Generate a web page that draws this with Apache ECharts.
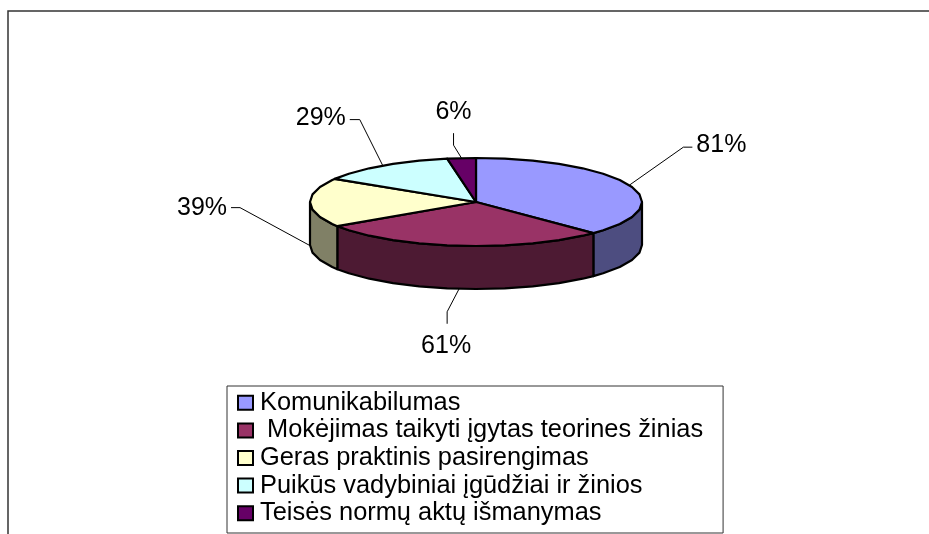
<!DOCTYPE html>
<html>
<head>
<meta charset="utf-8">
<style>html,body{margin:0;padding:0;background:#fff}#c{width:929px;height:534px}</style>
<script src="https://cdn.jsdelivr.net/npm/echarts@6/dist/echarts.min.js"></script>
</head>
<body>
<div id="c"></div>
<script>
var categories = ['Komunikabilumas', ' Mokėjimas taikyti įgytas teorines žinias', 'Geras praktinis pasirengimas', 'Puikūs vadybiniai įgūdžiai ir žinios', 'Teisės normų aktų išmanymas'];
var percents = [81, 61, 39, 29, 6];
var topColors = ['#9999FF', '#993366', '#FFFFCC', '#CCFFFF', '#660066'];
var sideColors = ['#4D4D80', '#4D1A33', '#808066', '#666680', '#330033'];

// leader-line elbows and label placement, relative to each slice's mid-angle rim point
var leaderOffsets = [
  [[54, -38], [63, -38]],
  [[-12, 23], [-12, 35]],
  [[-70, -38], [-79, -38]],
  [[-23, -46], [-33, -46]],
  [[-8, -13], [-8, -25]]
];
var labelOffsets = [[67, -40], [-13, 57], [-83, -38], [-37, -47], [-8, -46]];
var labelAligns = ['left', 'center', 'right', 'right', 'center'];

var CX = 476, CY = 202, RX = 166, RY = 44, DEPTH = 43, STEP = 10;
var total = percents.reduce(function (a, b) { return a + b; }, 0);

function pt(deg, dy) {
  var r = deg * Math.PI / 180;
  return [CX + RX * Math.sin(r), CY - RY * Math.cos(r) + (dy || 0)];
}
function arc(a, b, dy) {
  var out = [pt(a, dy)];
  var d = Math.floor(a / STEP) * STEP + STEP;
  for (; d < b; d += STEP) out.push(pt(d, dy));
  out.push(pt(b, dy));
  return out;
}
function makeRender(i) {
  return function () {
    var before = percents.slice(0, i).reduce(function (a, b) { return a + b; }, 0);
    var a = before / total * 360;
    var b = (before + percents[i]) / total * 360;
    var mid = (a + b) / 2;
    var children = [];
    var sa = Math.max(a, 90), sb = Math.min(b, 270);
    if (sa < sb) {
      children.push({
        type: 'polygon', z2: 1,
        shape: { points: arc(sa, sb, 0).concat(arc(sa, sb, DEPTH).reverse()) },
        style: { fill: sideColors[i], stroke: '#000', lineWidth: 2.2, lineJoin: 'round' }
      });
    }
    children.push({
      type: 'polygon', z2: 2,
      shape: { points: [[CX, CY]].concat(arc(a, b, 0)) },
      style: { fill: topColors[i], stroke: '#000', lineWidth: 2.2, lineJoin: 'round' }
    });
    var anchor = pt(mid, Math.cos(mid * Math.PI / 180) < 0 ? DEPTH : 0);
    var line = [anchor].concat(leaderOffsets[i].map(function (o) { return [anchor[0] + o[0], anchor[1] + o[1]]; }));
    children.push({
      type: 'polyline', z2: 3,
      shape: { points: line },
      style: { fill: null, stroke: '#000', lineWidth: 1 }
    });
    children.push({
      type: 'text', z2: 4,
      x: anchor[0] + labelOffsets[i][0],
      y: anchor[1] + labelOffsets[i][1],
      style: {
        text: percents[i] + '%', fill: '#000',
        font: '25px "Liberation Sans", Arial, sans-serif',
        align: labelAligns[i], verticalAlign: 'middle'
      }
    });
    return { type: 'group', children: children };
  };
}

var chart = echarts.init(document.getElementById('c'), null, { renderer: 'canvas' });
chart.setOption({
  animation: false,
  backgroundColor: '#fff',
  tooltip: { show: false },
  legend: {
    orient: 'vertical',
    left: 227, top: 386,
    padding: [3, 20, 6, 10],
    itemGap: 0,
    itemWidth: 15, itemHeight: 14,
    icon: 'rect',
    selectedMode: false,
    backgroundColor: '#fff',
    borderColor: '#333',
    borderWidth: 1,
    itemStyle: { borderColor: '#000', borderWidth: 2 },
    textStyle: { color: '#000', fontFamily: '"Liberation Sans", Arial, sans-serif', fontSize: 25.4, lineHeight: 27.6, padding: [0, 0, 0, 2] },
    data: categories
  },
  graphic: [{
    type: 'polyline', silent: true,
    shape: { points: [[8, 534], [8, 11], [929, 11]] },
    style: { fill: null, stroke: '#333', lineWidth: 1.5 }
  }],
  series: categories.map(function (name, i) {
    return {
      type: 'custom', name: name, coordinateSystem: 'none',
      itemStyle: { color: topColors[i] },
      renderItem: makeRender(i),
      silent: true,
      data: [percents[i]]
    };
  })
});
</script>
</body>
</html>
